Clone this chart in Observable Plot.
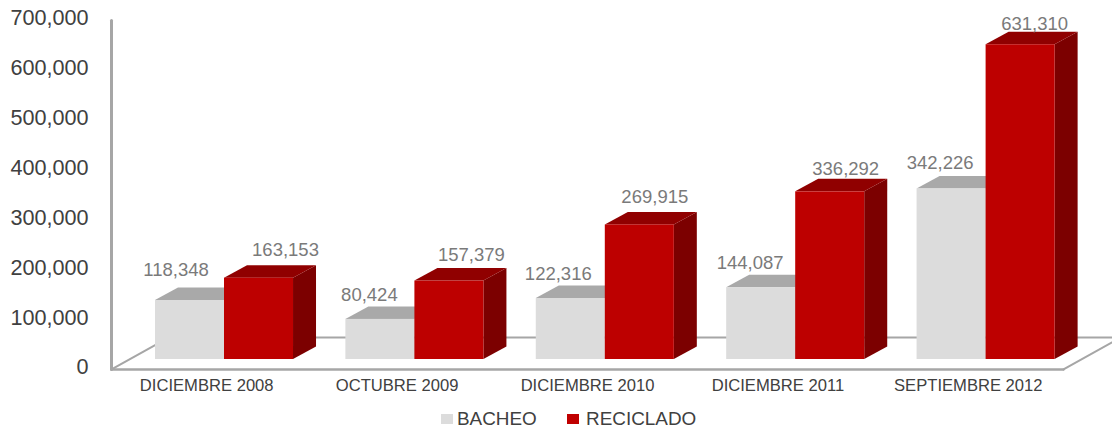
<!DOCTYPE html>
<html>
<head>
<meta charset="utf-8">
<script src="https://cdn.jsdelivr.net/npm/d3@7"></script>
<script src="https://cdn.jsdelivr.net/npm/@observablehq/plot@0.6"></script>
<style>
  html, body { margin: 0; padding: 0; background: #fff; overflow: hidden; }
  #chart svg { display: block; }
  #legend { position: relative; height: 22px; font: 18.9px "Liberation Sans", Arial, sans-serif; color: #404040; }
  #legend span { position: absolute; top: 2px; white-space: nowrap; }
  #legend i { position: absolute; top: 8px; width: 12px; height: 10px; }
</style>
</head>
<body>
<div id="chart"></div>
<div id="legend">
  <i style="left:441px;background:#dcdcdc"></i><span style="left:457px">BACHEO</span>
  <i style="left:567px;background:#c00000"></i><span style="left:586px">RECICLADO</span>
</div>
<script>
const categories = ["DICIEMBRE 2008", "OCTUBRE 2009", "DICIEMBRE 2010", "DICIEMBRE 2011", "SEPTIEMBRE 2012"];
const bacheo = [118348, 80424, 122316, 144087, 342226];
const reciclado = [163153, 157379, 269915, 336292, 631310];
const yTicks = [0, 100000, 200000, 300000, 400000, 500000, 600000, 700000];

// label nudges in pixels, relative to the top-centre of each bar's front face
const bacheoNudge = [[-14, -30], [-11, -24], [-12.5, -24], [-11, -25], [-11.5, -25.5]];
const recicladoNudge = [[26.5, -27.7], [22, -25.5], [15, -27.5], [15.5, -23], [14, -21]];

// pseudo-3D geometry in data units
const barStart = 0.231, barWidth = 0.3625, depthX = 0.1208, depthY = 25000;
const floorY = -20000, floorBackY = 44000, floorBackX = 0.3, wallTop = 680000, edgeX = 5.3;

const fmt = d3.format(",");
const bars = (values, offset) => values.map((v, i) => ({
  key: i, value: v, x1: i + barStart + offset, x2: i + barStart + offset + barWidth
}));
const gray = bars(bacheo, 0);
const red = bars(reciclado, barWidth);

const faceTop = rows => rows.flatMap(d => [
  {key: d.key, y: d.value, x1: d.x1, x2: d.x2},
  {key: d.key, y: d.value + depthY, x1: d.x1 + depthX, x2: d.x2 + depthX}
]);
const faceSide = rows => rows.flatMap(d => [
  {key: d.key, x: d.x2, y1: 0, y2: d.value},
  {key: d.key, x: d.x2 + depthX, y1: depthY, y2: d.value + depthY}
]);
const front = (rows, fill) => Plot.rect(rows, {x1: "x1", x2: "x2", y1: () => 0, y2: "value", fill});
const top3d = (rows, fill) => Plot.areaX(faceTop(rows), {y: "y", x1: "x1", x2: "x2", z: "key", fill});
const side3d = (rows, fill) => Plot.areaY(faceSide(rows), {x: "x", y1: "y1", y2: "y2", z: "key", fill});
const labels = (rows, nudges) => rows.map((d, i) => Plot.text([d], {
  x: r => (r.x1 + r.x2) / 2, y: "value", text: r => fmt(r.value),
  dx: nudges[i][0], dy: nudges[i][1],
  fill: "#7a7a7a", fontSize: 18.5, style: {letterSpacing: "0.65px"}
}));

const frame = {stroke: "#a6a6a6", strokeWidth: 2.4, curve: "linear"};
const chart = Plot.plot({
  width: 1112, height: 406,
  marginLeft: 111, marginRight: 49, marginTop: 10, marginBottom: 47,
  style: {fontFamily: "'Liberation Sans', Arial, sans-serif", background: "#fff"},
  x: {domain: [0, 5], axis: null},
  y: {domain: [0, 700000], axis: null},
  marks: [
    // floor and wall
    Plot.line([[floorBackX, floorBackY], [edgeX, floorBackY]], {x: "0", y: "1", ...frame, strokeWidth: 2}),
    Plot.line([[0, floorY], [floorBackX, floorBackY]], {x: "0", y: "1", ...frame, strokeWidth: 2}),
    Plot.line([[5, floorY], [edgeX, floorBackY]], {x: "0", y: "1", ...frame, strokeWidth: 2}),
    Plot.line([[0, floorY], [5, floorY]], {x: "0", y: "1", ...frame}),
    Plot.line([[0, floorY], [0, wallTop]], {x: "0", y: "1", ...frame, strokeWidth: 3}),
    // bars
    top3d(gray, "#a9a9a9"), side3d(gray, "#a9a9a9"), front(gray, "#dcdcdc"),
    side3d(red, "#7c0000"), top3d(red, "#900000"), front(red, "#bd0000"),
    ...labels(gray, bacheoNudge),
    ...labels(red, recicladoNudge),
    // axes
    Plot.axisY({ticks: yTicks, tickSize: 0, tickPadding: 23, dy: 8, tickFormat: fmt, fontSize: 21.6, fill: "#404040", label: null}),
    Plot.axisX({ticks: categories.map((_, i) => i + 0.5), tickSize: 0, tickPadding: 20,
      tickFormat: v => categories[Math.floor(v)], fontSize: 16.6, fill: "#404040", label: null})
  ]
});
document.getElementById("chart").append(chart);
</script>
</body>
</html>
